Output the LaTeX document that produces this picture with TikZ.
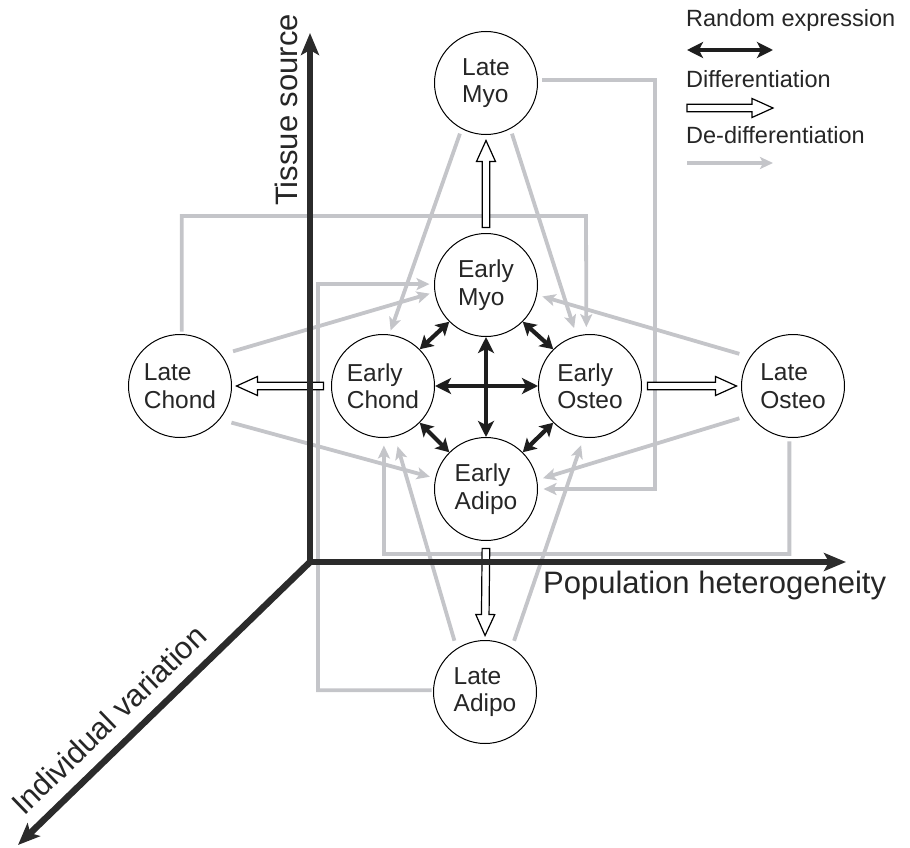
\documentclass[tikz,border=0pt]{standalone}
\usepackage{fontspec}
\setmainfont{Liberation Sans}
\usetikzlibrary{arrows.meta,calc}
\definecolor{greyc}{RGB}{196,197,201}
\definecolor{axisc}{RGB}{43,43,43}
\definecolor{blackc}{RGB}{30,30,30}
\tikzset{
  cell/.style={circle, draw=black, line width=1pt, fill=white, minimum size=103pt,
    inner sep=0pt, align=left, text=black!85, font=\fontsize{24.5}{27.5}\selectfont},
  dediff/.style={draw=greyc, line width=3.8pt, line join=miter,
    -{Stealth[length=13pt,width=12pt,inset=3pt]}},
  randexp/.style={draw=blackc, line width=4.5pt,
    {Stealth[length=16pt,width=16pt,inset=4pt]}-{Stealth[length=16pt,width=16pt,inset=4pt]}},
  randdiag/.style={draw=blackc, line width=4.2pt,
    {Stealth[length=13pt,width=15pt,inset=3pt]}-{Stealth[length=13pt,width=15pt,inset=3pt]}},
  axisline/.style={draw=axisc, line width=6.5pt, line join=miter},
  difftip/.style={draw=black, fill=white, line width=1.2pt, line join=miter},
  axislabel/.style={font=\fontsize{31}{31}\selectfont, inner sep=0pt, text=black!85},
  keylabel/.style={font=\fontsize{23.5}{24}\selectfont, inner sep=0pt, anchor=base west, text=black!85},
}
\newcommand{\diffarrow}[4]{%
  \coordinate (da-s) at ($(#1)!#3!(#2)$);
  \coordinate (da-e) at ($(#2)!#4!(#1)$);
  \coordinate (da-h) at ($(da-e)!21pt!(da-s)$);
  \draw[difftip] ($(da-s)!3.8pt!90:(da-e)$) -- ($(da-h)!3.8pt!90:(da-e)$)
    -- ($(da-h)!9.5pt!90:(da-e)$) -- (da-e) -- ($(da-h)!9.5pt!-90:(da-e)$)
    -- ($(da-h)!3.8pt!-90:(da-e)$) -- ($(da-s)!3.8pt!-90:(da-e)$) -- cycle;}
\begin{document}
\begin{tikzpicture}[x=1pt,y=-1pt]
\useasboundingbox (0,0) rectangle (910,848);
% cells
\node[cell] (LM) at (486,83) {Late\\Myo};
\node[cell] (EM) at (486,285) {Early\\Myo};
\node[cell] (EC) at (383,386) {Early\\Chond};
\node[cell] (EO) at (590,386) {Early\\Osteo};
\node[cell] (EA) at (486,489) {Early\\Adipo};
\node[cell] (LC) at (180,386) {Late\\Chond};
\node[cell] (LO) at (793,386) {Late\\Osteo};
\node[cell] (LA) at (485,692) {Late\\Adipo};
% de-differentiation
\draw[dediff, shorten <=5pt, shorten >=4pt] (LM.242.5) -- (EC.83.8);
\draw[dediff, shorten <=5pt, shorten >=8pt] (LM.298.4) -- (EO.105.4);
\draw[dediff, shorten <=4.5pt, shorten >=5.5pt] (LM.3) -| (655,489) -- (EA.east);
\draw[dediff, shorten <=2.5pt, shorten >=7pt] (LC.88) |- (586,216) -- (EO.94);
\draw[dediff, shorten <=12pt, shorten >=5pt] (LC.37.4) -- (EM.188.1);
\draw[dediff, shorten <=12pt, shorten >=5.5pt] (LC.320.5) -- (EA.168.9);
\draw[dediff, shorten <=11pt, shorten >=5.5pt] (LO.146) -- (EM.349.9);
\draw[dediff, shorten <=11pt, shorten >=6pt] (LO.214) -- (EA.10);
\draw[dediff, shorten <=3.5pt, shorten >=7.5pt] (LO.266) |- (384,554) -- (EC.271);
\draw[dediff, shorten <=8pt, shorten >=10pt] (LA.123.4) -- (EC.283.1);
\draw[dediff, shorten <=7pt, shorten >=8pt] (LA.59) -- (EO.263.2);
\draw[dediff, shorten <=1.5pt, shorten >=4.5pt] (LA.178) -| (318,284) -- (EM.179);
% differentiation
\diffarrow{EM.north}{LM.south}{5.5pt}{5.5pt}
\diffarrow{EC.west}{LC.east}{7.5pt}{4.5pt}
\diffarrow{EO.east}{LO.west}{5.5pt}{4.5pt}
\diffarrow{EA.south}{LA.north}{7.5pt}{4.5pt}
% axes
\coordinate (O) at (310,562);
\coordinate (ytop) at (310,33);
\coordinate (xend) at (846,562);
\coordinate (zend) at (18,845);
\draw[axisline, {Stealth[length=22pt,width=18pt,inset=5pt]}-{Stealth[length=22pt,width=18pt,inset=5pt]}] (ytop) -- (O) -- (xend);
\draw[axisline, line cap=round, -{Stealth[length=22pt,width=18pt,inset=5pt]}] (O) -- (zend);
% random expression
\draw[randexp] (EC.east) -- (EO.west);
\draw[randexp] (EM.south) -- (EA.north);
\draw[randdiag] (EM.225) -- (EC.45);
\draw[randdiag] (EM.315) -- (EO.135);
\draw[randdiag] (EC.315) -- (EA.135);
\draw[randdiag] (EO.225) -- (EA.45);
% axis labels
\node[axislabel, rotate=90] (ts) at (286,110) {Tissue source};
\node[axislabel, anchor=base west] (ph) at (543,593) {Population heterogeneity};
\node[axislabel, rotate=44, anchor=base west] (iv) at (24,817) {Individual variation};
% legend
\node[keylabel] (kt1) at (686,27) {Random expression};
\coordinate (k1a) at (687,50); \coordinate (k1b) at (773,50);
\draw[randexp] (k1a) -- (k1b);
\node[keylabel] (kt2) at (686,88) {Differentiation};
\coordinate (k2a) at (687,108); \coordinate (k2b) at (773,108);
\diffarrow{k2a}{k2b}{0pt}{0pt}
\node[keylabel] (kt3) at (686,143) {De-differentiation};
\coordinate (k3a) at (687,163); \coordinate (k3b) at (773,163);
\draw[dediff] (k3a) -- (k3b);
\end{tikzpicture}
\end{document}
